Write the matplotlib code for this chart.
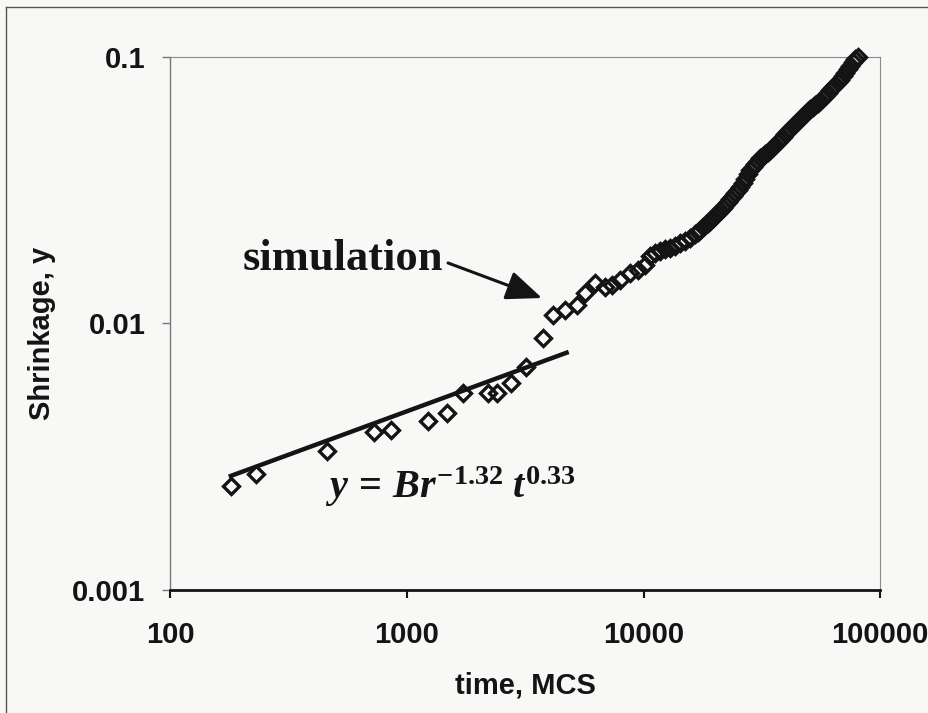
import numpy as np
import matplotlib.pyplot as plt
from matplotlib.lines import Line2D
from matplotlib.ticker import NullLocator

plt.rcParams['font.family'] = 'Liberation Sans'
plt.rcParams['font.weight'] = 'bold'
plt.rcParams['mathtext.fontset'] = 'custom'
plt.rcParams['mathtext.it'] = 'Liberation Serif:italic:bold'
plt.rcParams['mathtext.rm'] = 'Liberation Serif:bold'
plt.rcParams['mathtext.bf'] = 'Liberation Serif:bold'

# simulation points (time in MCS, shrinkage y)
t_sim = [180, 231, 458, 727, 856, 1230, 1472, 1720, 2193, 2394, 2745, 3177,
         3750, 4159, 4660, 5219, 5657, 6236, 6874, 7336, 7954, 8770, 9480,
         10150, 10650, 11190, 11750, 12330, 12950, 13590, 14270, 14980, 15730,
         16510, 16920, 17340, 17770, 18200, 18650, 19110, 19580, 20060, 20560,
         21060, 21580, 22110, 22660, 23220, 23790, 24380, 24980, 25590, 26220,
         26870, 27530, 28200, 28900, 29610, 30340, 31090, 31860, 32640, 33450,
         34270, 35120, 35980, 36870, 37780, 38700, 39660, 40640, 41650, 42660,
         43720, 44790, 45890, 47020, 48190, 49360, 50580, 51830, 53120, 54410,
         55760, 57120, 58540, 59980, 61470, 62990, 64520, 66120, 67750, 69400,
         71120, 72880, 74680, 76520, 78400, 80700]
y_sim = [0.00246, 0.00273, 0.00333, 0.00393, 0.00398, 0.00432, 0.00460,
         0.00550, 0.00549, 0.00547, 0.00597, 0.00688, 0.00884, 0.01076,
         0.01124, 0.01173, 0.01298, 0.01415, 0.01367, 0.01395, 0.01456,
         0.01547, 0.01585,
         0.01658, 0.01792, 0.01839, 0.01871, 0.01904, 0.01920, 0.01954,
         0.02005, 0.02040, 0.02094, 0.02167, 0.02204, 0.02243, 0.02292,
         0.02342, 0.02383, 0.02424, 0.02489, 0.02553, 0.02599, 0.02643,
         0.02713, 0.02785, 0.02858, 0.02933, 0.03010, 0.03089, 0.03170,
         0.03253, 0.03367, 0.03486, 0.03639, 0.03767, 0.03866, 0.03967,
         0.04071, 0.04178, 0.04251, 0.04325, 0.04400, 0.04477, 0.04575,
         0.04675, 0.04778, 0.04882, 0.05010, 0.05142, 0.05254, 0.05369,
         0.05486, 0.05606, 0.05728, 0.05854, 0.05981, 0.06111, 0.06245,
         0.06381, 0.06493, 0.06605, 0.06721, 0.06837, 0.06988, 0.07140,
         0.07326, 0.07519, 0.07683, 0.07851, 0.08023, 0.08197, 0.08451,
         0.08710, 0.08981, 0.09252, 0.09537, 0.09829, 0.1000]

# power-law fit y = B r^-1.32 t^0.33 (end points)
t_fit = [180, 4730]
y_fit = [0.00268, 0.00777]

x_ticks = [100, 1000, 10000, 100000]
x_labels = ['100', '1000', '10000', '100000']
y_ticks = [0.001, 0.01, 0.1]
y_labels = ['0.001', '0.01', '0.1']

bg = '#f8f8f6'
ink = '#141414'

fig = plt.figure(figsize=(9.29, 7.13), dpi=100)
fig.patch.set_facecolor(bg)
ax = fig.add_axes([0.1835, 0.1725, 0.7638, 0.7476])
ax.set_facecolor(bg)

ax.set_xscale('log')
ax.set_yscale('log')
ax.plot(t_sim, y_sim, ls='none', marker='D', ms=8.5, mfc='none',
        mec=ink, mew=2.4, clip_on=False, zorder=3)
ax.plot(t_fit, y_fit, '-', color=ink, lw=3.2, zorder=4)

ax.set_xlim(100, 100000)
ax.set_ylim(0.001, 0.1)
ax.set_xticks(x_ticks)
ax.set_xticklabels(x_labels)
ax.set_yticks(y_ticks)
ax.set_yticklabels(y_labels)
ax.xaxis.set_minor_locator(NullLocator())
ax.yaxis.set_minor_locator(NullLocator())

ax.tick_params(axis='x', direction='out', length=6, width=1.5, color=ink,
               pad=16, labelsize=21, labelcolor=ink)
ax.tick_params(axis='y', direction='out', length=6, width=1, color='#777777',
               pad=12, labelsize=21, labelcolor=ink)

for s in ['top', 'right']:
    ax.spines[s].set_color('#8a8a8a')
    ax.spines[s].set_linewidth(0.8)
ax.spines['left'].set_color('#777777')
ax.spines['left'].set_linewidth(1.0)
ax.spines['bottom'].set_color(ink)
ax.spines['bottom'].set_linewidth(2.0)

fig.text(525 / 929, 1 - 694 / 713, 'time, MCS', ha='center', va='baseline',
         fontsize=21, color=ink)
fig.text(42 / 929, 1 - 333 / 713, 'Shrinkage, y', ha='center', va='center',
         rotation=90, fontsize=21, color=ink)

# annotations
ax.text(1420, 0.01588, 'simulation', ha='right', va='baseline',
        family='Liberation Serif', weight='bold', fontsize=32, color=ink)
ax.annotate('', xy=(3722, 0.01246), xytext=(1491, 0.01687),
            arrowprops=dict(arrowstyle='-|>,head_length=2.2,head_width=0.9',
                            lw=2.2, color=ink, shrinkA=0, shrinkB=0))
ax.text(450, 0.002214, r'$y\,=\,Br^{-1.32}\;t^{0.33}$', ha='left',
        va='baseline', fontsize=29, color=ink)

# outer chart border
fig.add_artist(Line2D([6 / 929, 1.0], [1 - 7 / 713] * 2,
                      transform=fig.transFigure, color='#555555', lw=1))
fig.add_artist(Line2D([6 / 929] * 2, [0.0, 1 - 7 / 713],
                      transform=fig.transFigure, color='#555555', lw=1))

fig.savefig('out.png', dpi=100, facecolor=bg)
